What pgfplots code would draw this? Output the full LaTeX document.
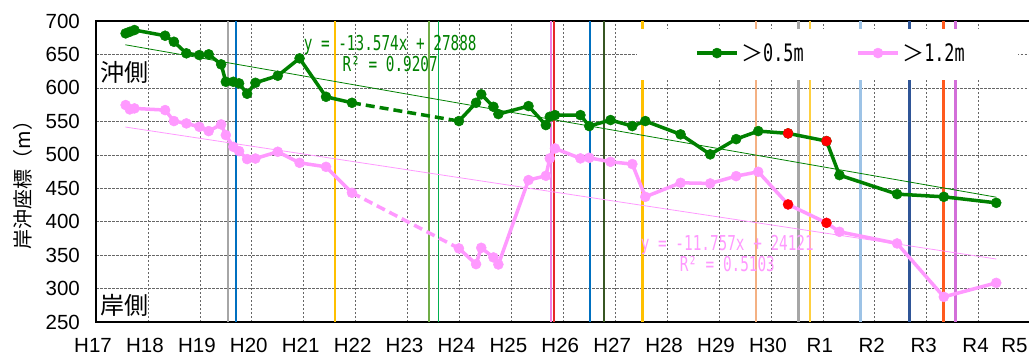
\documentclass[border=0pt]{standalone}
\usepackage{fontspec}
\usepackage{pgfplots}
\usepackage{pgfplotstable}
\pgfplotsset{compat=1.18}
\setmainfont{Liberation Sans}
\newfontfamily\cjk{Noto Sans CJK JP}
\newfontfamily\gothmono[FakeStretch=0.7]{DejaVu Sans Mono}

\definecolor{sgreen}{RGB}{0,128,0}
\definecolor{spink}{RGB}{255,153,255}
\definecolor{sred}{RGB}{255,0,0}
\definecolor{vgray}{RGB}{166,166,166}
\definecolor{vblue}{RGB}{0,112,192}
\definecolor{vamber}{RGB}{255,192,0}
\definecolor{volive}{RGB}{112,173,71}
\definecolor{vgreen}{RGB}{0,176,80}
\definecolor{vpink}{RGB}{240,130,230}
\definecolor{vred}{RGB}{230,40,40}
\definecolor{vdkgreen}{RGB}{55,86,35}
\definecolor{vpeach}{RGB}{244,177,131}
\definecolor{vyellow}{RGB}{255,208,64}
\definecolor{vltblue}{RGB}{157,195,230}
\definecolor{vdkblue}{RGB}{47,85,151}
\definecolor{vorred}{RGB}{255,90,30}
\definecolor{vviolet}{RGB}{211,111,217}

% >0.5m line, before the survey gap
\pgfplotstableread{
x y
2005.57 681.5
2005.65 683.9
2005.74 686.5
2006.33 678.0
2006.50 669.0
2006.74 651.7
2006.99 649.1
2007.17 650.2
2007.41 635.2
2007.50 609.2
2007.645 609.2
2007.755 606.8
2007.91 591.3
2008.07 607.7
2008.50 618.2
2008.92 644.2
2009.43 586.8
2009.93 577.8
}\greenA
% >0.5m line, after the survey gap
\pgfplotstableread{
x y
2011.99 550.5
2012.32 577.8
2012.42 590.4
2012.655 571.8
2012.75 560.9
2013.33 572.9
2013.665 544.5
2013.74 556.9
2013.84 559.4
2014.33 559.4
2014.50 543.0
2014.91 552.0
2015.33 543.0
2015.58 550.5
2016.26 530.6
2016.83 500.7
2017.33 523.5
2017.755 535.5
2018.33 532.1
2019.07 520.6
2019.32 469.7
2020.43 441.3
2021.33 437.3
2022.34 428.3
}\greenB
% >1.2m line, before the survey gap
\pgfplotstableread{
x y
2005.57 574.4
2005.65 567.9
2005.74 569.4
2006.33 566.9
2006.50 550.5
2006.74 547.0
2006.99 541.9
2007.17 535.5
2007.41 545.5
2007.50 529.5
2007.645 512.0
2007.755 505.6
2007.91 493.7
2008.07 494.5
2008.50 504.6
2008.92 488.1
2009.43 482.1
2009.93 443.3
}\pinkA
% >1.2m line, after the survey gap
\pgfplotstableread{
x y
2011.99 360.2
2012.32 336.7
2012.42 361.1
2012.655 346.7
2012.75 336.2
2013.33 462.3
2013.665 468.7
2013.74 494.7
2013.84 509.6
2014.33 494.7
2014.50 495.6
2014.91 489.6
2015.33 486.2
2015.58 437.3
2016.26 458.2
2016.83 457.3
2017.33 468.2
2017.755 474.7
2018.33 425.9
2019.07 398.4
2019.32 385.0
2020.43 367.6
2021.33 287.8
2022.34 308.7
}\pinkB

\begin{document}
\begin{tikzpicture}
\begin{axis}[
  at={(0pt,0pt)}, anchor=south west,
  scale only axis, width=934pt, height=301pt,
  xmin=2005, xmax=2023, ymin=250, ymax=700,
  xtick={2005,2006,...,2023},
  xticklabels={H17,H18,H19,H20,H21,H22,H23,H24,H25,H26,H27,H28,H29,H30,R1,R2,R3,R4,\llap{R5}},
  ytick={250,300,...,700},
  xmajorgrids, ymajorgrids,
  grid style={black!60, line width=0.6pt, dash pattern=on 2.5pt off 1.5pt},
  major tick length=0pt,
  axis line style={black, line width=1.8pt},
  tick label style={font=\fontsize{20.5}{22}\selectfont},
  /pgf/number format/assume math mode=true,
  yticklabel style={inner sep=0pt, xshift=-16pt},
  xticklabel style={inner sep=0pt, yshift=-16pt, xshift=-3pt},
  legend columns=2,
  legend image code/.code={
    \draw[mark repeat=2, mark phase=2, #1] plot coordinates {(0pt,0pt) (20pt,0pt) (40pt,0pt)};
  },
  legend style={
    draw=none, fill=none, inner sep=0pt, outer sep=0pt,
    at={(axis cs:2016.541,652.1)}, anchor=west,
    nodes={inner sep=2.5pt},
    font=\fontsize{22}{24}\selectfont,
    /tikz/every even column/.append style={column sep=50pt},
  },
]
% event lines
\addplot[forget plot, vgray, line width=2pt] coordinates {(2007.543,250) (2007.543,700)};
\addplot[forget plot, vblue, line width=1.8pt] coordinates {(2007.701,250) (2007.701,700)};
\addplot[forget plot, vamber, line width=2.5pt] coordinates {(2009.605,250) (2009.605,700)};
\addplot[forget plot, volive, line width=2.2pt] coordinates {(2011.407,250) (2011.407,700)};
\addplot[forget plot, vgreen, line width=1.8pt] coordinates {(2011.595,250) (2011.595,700)};
\addplot[forget plot, vpink, line width=2.5pt] coordinates {(2013.767,250) (2013.767,700)};
\addplot[forget plot, vred, line width=2pt] coordinates {(2013.819,250) (2013.819,700)};
\addplot[forget plot, vblue, line width=2pt] coordinates {(2014.524,250) (2014.524,700)};
\addplot[forget plot, vdkgreen, line width=2.2pt] coordinates {(2014.782,250) (2014.782,700)};
\addplot[forget plot, vamber, line width=2.5pt] coordinates {(2015.526,250) (2015.526,700)};
\addplot[forget plot, vpeach, line width=2pt] coordinates {(2017.711,250) (2017.711,700)};
\addplot[forget plot, vgray, line width=2.5pt] coordinates {(2018.530,250) (2018.530,700)};
\addplot[forget plot, vyellow, line width=2pt] coordinates {(2018.753,250) (2018.753,700)};
\addplot[forget plot, vltblue, line width=2.5pt] coordinates {(2019.726,250) (2019.726,700)};
\addplot[forget plot, vdkblue, line width=2.5pt] coordinates {(2020.671,250) (2020.671,700)};
\addplot[forget plot, vorred, line width=2.5pt] coordinates {(2021.326,250) (2021.326,700)};
\addplot[forget plot, vviolet, line width=2.5pt] coordinates {(2021.551,250) (2021.551,700)};
% legend background
\fill[white] (axis cs:2015.424,611.7) rectangle (axis cs:2022.765,688);
% linear trends
\addplot[forget plot, sgreen, line width=0.8pt] coordinates {(2005.565,664.46) (2022.341,436.74)};
\addplot[forget plot, spink, line width=0.8pt] coordinates {(2005.565,541.57) (2022.341,344.34)};
% >0.5m
\addplot[sgreen, line width=3.5pt, mark=*, mark size=5pt, mark options={line width=0.5pt}] table {\greenA};
\addlegendentry{{\cjk ＞}{\fontsize{24}{26}\selectfont\gothmono 0.5m}}
\addplot[forget plot, sgreen, line width=3.5pt, mark=*, mark size=5pt, mark options={line width=0.5pt}] table {\greenB};
\addplot[forget plot, sgreen, line width=3.5pt, dash pattern=on 9pt off 5pt] coordinates {(2009.93,577.8) (2011.99,550.5)};
% >1.2m
\addplot[spink, line width=3.5pt, mark=*, mark size=5pt, mark options={line width=0.5pt}] table {\pinkA};
\addlegendentry{{\cjk ＞}{\fontsize{24}{26}\selectfont\gothmono 1.2m}}
\addplot[forget plot, spink, line width=3.5pt, mark=*, mark size=5pt, mark options={line width=0.5pt}] table {\pinkB};
\addplot[forget plot, spink, line width=3.5pt, dash pattern=on 9pt off 5pt] coordinates {(2009.93,443.3) (2011.99,360.2)};
% highlighted surveys
\addplot[forget plot, only marks, sred, mark=*, mark size=5pt] coordinates {(2018.33,532.1) (2019.07,520.6) (2018.33,425.9) (2019.07,398.4)};
\end{axis}
% trend equations
\node[align=center, text=sgreen, font=\fontsize{20.5}{21}\selectfont\gothmono] at (294pt,268.5pt) {y = -13.574x + 27888\\R² = 0.9207};
\node[align=center, text=spink, font=\fontsize{20.5}{21}\selectfont\gothmono] at (631pt,68.5pt) {y = -11.757x + 24121\\R² = 0.5103};
% side captions
\node[anchor=west, inner sep=0pt, font=\fontsize{24}{26}\selectfont\cjk] at (4pt,250pt) {沖側};
\node[anchor=west, inner sep=0pt, font=\fontsize{24}{26}\selectfont\cjk] at (4pt,17pt) {岸側};
\node[rotate=90, font=\fontsize{20}{22}\selectfont\cjk] at (-73pt,142pt) {岸沖座標（m）};
\pgfresetboundingbox
\path (-96pt,-36pt) rectangle (932.5pt,322pt);
\end{tikzpicture}
\end{document}
